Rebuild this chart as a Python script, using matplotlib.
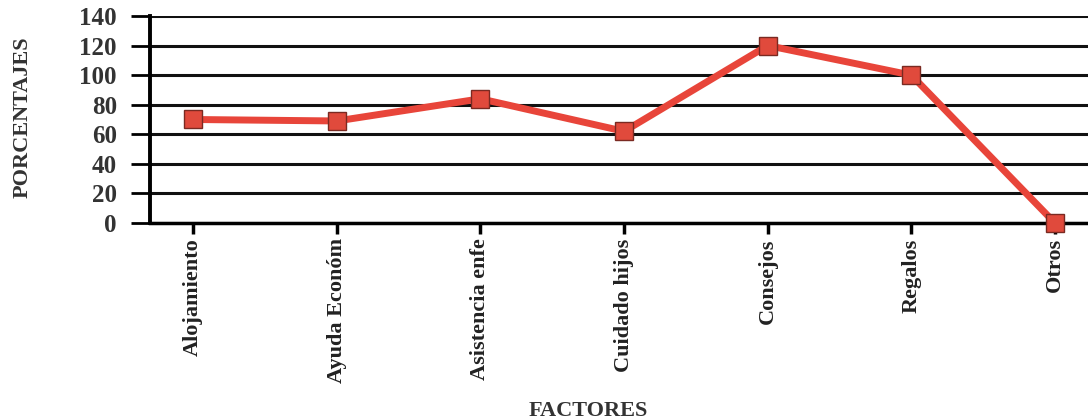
import matplotlib
matplotlib.use("Agg")
from matplotlib import pyplot as plt

# factores y porcentajes
factores = ["Alojamiento", "Ayuda Económ", "Asistencia enfe", "Cuidado hijos",
            "Consejos", "Regalos", "Otros"]
porcentajes = [70, 69, 84, 62, 120, 100, 0]
yticks = [0, 20, 40, 60, 80, 100, 120, 140]

plt.rcParams['font.family'] = ['Liberation Serif', 'DejaVu Serif']
plt.rcParams['font.weight'] = 'bold'

fig = plt.figure(figsize=(10.88, 4.2), dpi=100)
ax = fig.add_axes([0.138, 0.469, 0.862, 0.493])

x = list(range(len(factores)))
ax.plot(x, porcentajes, color="#e8453a", lw=5, marker="s", ms=13,
        markerfacecolor="#e04a3c", markeredgecolor="#7a2a22", markeredgewidth=1,
        zorder=3, clip_on=False)

ax.set_ylim(0, 140)
ax.set_xlim(-0.3, 6.23)
ax.set_yticks(yticks)
ax.set_xticks(x)
ax.set_xticklabels(factores, rotation=90, fontsize=16, color="#222222")
ax.tick_params(axis='y', length=14, width=2, labelsize=18, pad=10,
               labelcolor="#333333")
ax.tick_params(axis='x', length=8, width=2.5, pad=3)
ax.yaxis.grid(True, color="#111111", lw=2.2)
ax.set_axisbelow(True)

for s in ["top", "right"]:
    ax.spines[s].set_visible(False)
ax.spines["left"].set_linewidth(2.8)
ax.spines["bottom"].set_linewidth(2.5)

fig.text(0.021, 0.72, "PORCENTAJES", rotation=90, ha="center", va="center",
         fontsize=16, fontweight="bold", color="#333333")
fig.text(0.541, 0.01, "FACTORES", ha="center", fontsize=16,
         fontweight="bold", color="#333333")

fig.savefig("out.png", dpi=100)
